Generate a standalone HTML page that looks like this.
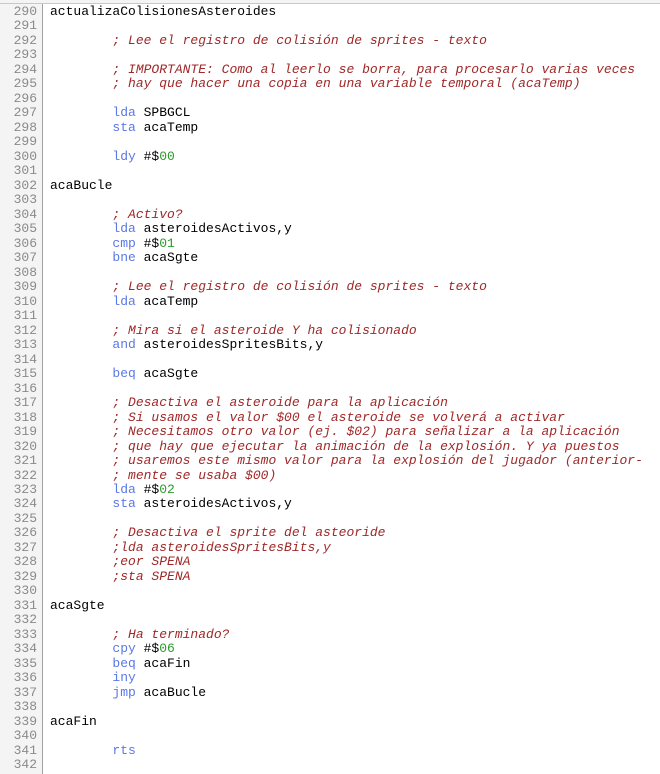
<!DOCTYPE html><html><head><style>
body{margin:0;width:660px;height:774px;overflow:hidden;background:#fff;font-family:"Liberation Mono",monospace;font-size:13px}
.top{position:absolute;left:0;top:0;width:660px;height:3px;border-bottom:1px solid #c8c8c8;background:#f4f4f4}
.g{position:absolute;left:0;top:4px;width:42px;height:770px;background:#f4f4f4;border-right:1px solid #a0a0a0}
.ln{position:absolute;left:0;top:5px;width:37px;text-align:right;color:#8a8a8a;line-height:14.48px;white-space:pre}
.c{position:absolute;left:50px;top:5px;line-height:14.48px;white-space:pre;color:#000}
.k{color:#5a78e6}.m{color:#a02828;font-style:italic}.n{color:#2a9a2a}
</style></head><body><div class="top"></div><div class="g"></div>
<div class="ln">290
291
292
293
294
295
296
297
298
299
300
301
302
303
304
305
306
307
308
309
310
311
312
313
314
315
316
317
318
319
320
321
322
323
324
325
326
327
328
329
330
331
332
333
334
335
336
337
338
339
340
341
342</div>
<div class="c">actualizaColisionesAsteroides

        <span class="m">; Lee el registro de colisión de sprites - texto</span>

        <span class="m">; IMPORTANTE: Como al leerlo se borra, para procesarlo varias veces</span>
        <span class="m">; hay que hacer una copia en una variable temporal (acaTemp)</span>

        <span class="k">lda</span> SPBGCL
        <span class="k">sta</span> acaTemp

        <span class="k">ldy</span> #$<span class="n">00</span>

acaBucle

        <span class="m">; Activo?</span>
        <span class="k">lda</span> asteroidesActivos,y
        <span class="k">cmp</span> #$<span class="n">01</span>
        <span class="k">bne</span> acaSgte

        <span class="m">; Lee el registro de colisión de sprites - texto</span>
        <span class="k">lda</span> acaTemp

        <span class="m">; Mira si el asteroide Y ha colisionado</span>
        <span class="k">and</span> asteroidesSpritesBits,y

        <span class="k">beq</span> acaSgte

        <span class="m">; Desactiva el asteroide para la aplicación</span>
        <span class="m">; Si usamos el valor $00 el asteroide se volverá a activar</span>
        <span class="m">; Necesitamos otro valor (ej. $02) para señalizar a la aplicación</span>
        <span class="m">; que hay que ejecutar la animación de la explosión. Y ya puestos</span>
        <span class="m">; usaremos este mismo valor para la explosión del jugador (anterior-</span>
        <span class="m">; mente se usaba $00)</span>
        <span class="k">lda</span> #$<span class="n">02</span>
        <span class="k">sta</span> asteroidesActivos,y

        <span class="m">; Desactiva el sprite del asteoride</span>
        <span class="m">;lda asteroidesSpritesBits,y</span>
        <span class="m">;eor SPENA</span>
        <span class="m">;sta SPENA</span>

acaSgte

        <span class="m">; Ha terminado?</span>
        <span class="k">cpy</span> #$<span class="n">06</span>
        <span class="k">beq</span> acaFin
        <span class="k">iny</span>
        <span class="k">jmp</span> acaBucle

acaFin

        <span class="k">rts</span>
</div></body></html>
